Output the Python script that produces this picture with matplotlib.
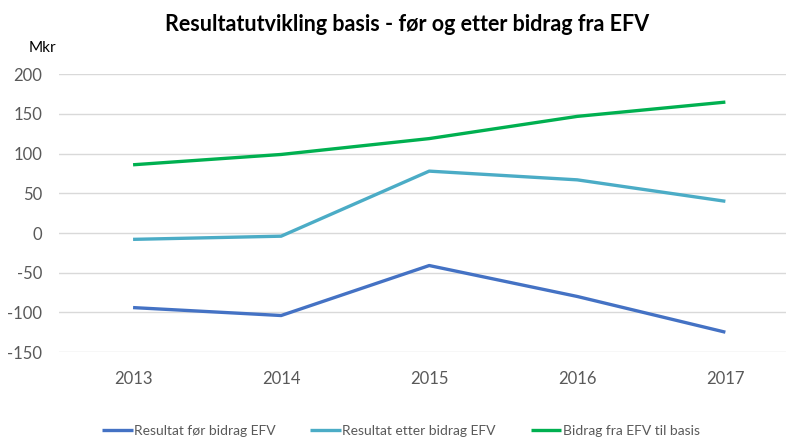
import matplotlib.pyplot as plt

years = ['2013', '2014', '2015', '2016', '2017']
for_bidrag = [-94, -104, -41, -80, -125]
etter_bidrag = [-8, -4, 78, 67, 40]
bidrag_efv = [86, 99, 119, 147, 165]

labels = ['Resultat før bidrag EFV', 'Resultat etter bidrag EFV', 'Bidrag fra EFV til basis']
colors = ['#4472C4', '#4BACC6', '#00B050']

plt.rcParams['font.family'] = ['Lato', 'DejaVu Sans']
plt.rcParams['axes.unicode_minus'] = False

fig = plt.figure(figsize=(7.86, 4.38), dpi=100)
ax = fig.add_axes([0.0751, 0.1963, 0.925, 0.634])

x = range(len(years))
for series, label, color in zip([for_bidrag, etter_bidrag, bidrag_efv], labels, colors):
  ax.plot(x, series, color=color, lw=2.4, label=label, solid_capstyle='butt')

ax.set_xlim(-0.5, 4.41)
ax.set_ylim(-150, 200)
ax.set_yticks(range(-150, 201, 50))
ax.set_xticks(list(x))
ax.set_xticklabels(years)
ax.grid(axis='y', color='#D9D9D9', lw=1)
ax.set_axisbelow(True)
for s in ax.spines.values():
  s.set_visible(False)
ax.tick_params(length=0, labelsize=12, labelcolor='#595959')
ax.tick_params(axis='y', pad=12)
ax.tick_params(axis='x', pad=14)

fig.text(0.518, 0.943, 'Resultatutvikling basis - før og etter bidrag fra EFV',
         ha='center', va='center', fontsize=15.5, fontweight='bold', color='#000000')
fig.text(0.036, 0.89, 'Mkr', ha='left', va='center', fontsize=11, color='#000000')

fig.legend(loc='center', bbox_to_anchor=(0.51, 0.017), ncol=3, frameon=False,
           fontsize=10, handlelength=2.2, handletextpad=0.1, columnspacing=2.5,
           labelcolor='#595959')

fig.savefig('out.png', dpi=100)
